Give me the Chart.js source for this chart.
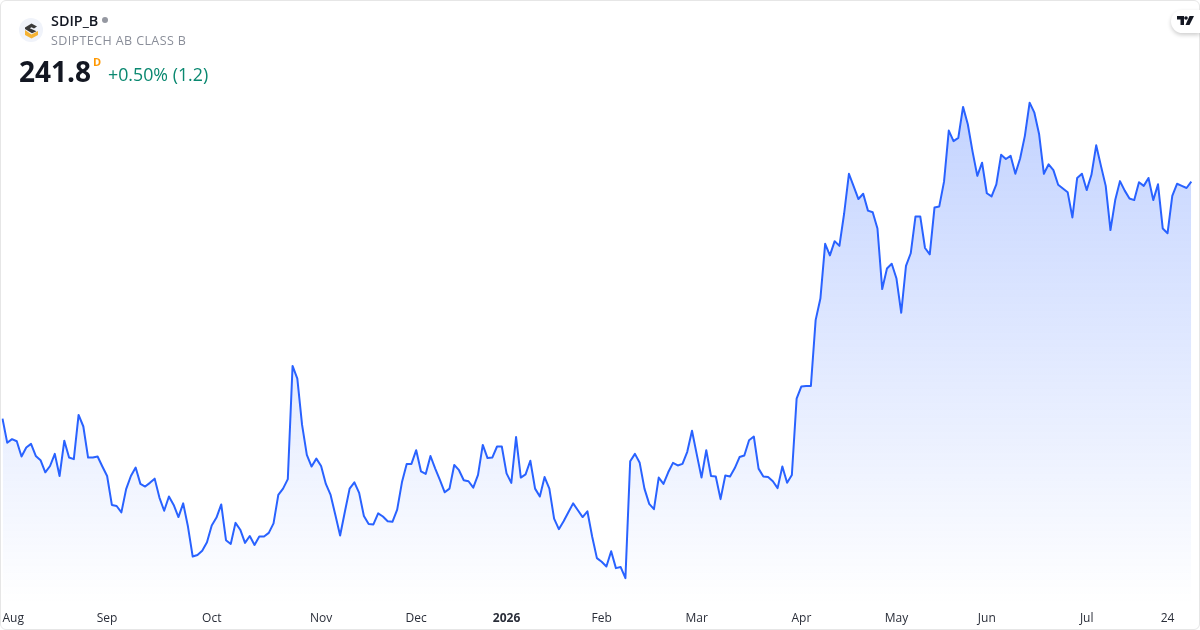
<!DOCTYPE html>
<html>
<head>
<meta charset="utf-8">
<title>SDIP_B</title>
<script src="https://cdn.jsdelivr.net/npm/chart.js@4/dist/chart.umd.min.js"></script>
<style>
  html, body { margin: 0; padding: 0; background: #fff; }
  body { width: 1200px; height: 630px; overflow: hidden; position: relative; font-family: "Open Sans", sans-serif; }
  #frame { position: absolute; left: 0; top: 0; width: 1198px; height: 628px; border: 1px solid #e6e6e6; border-radius: 6px; pointer-events: none; }
  canvas { position: absolute; left: 0; top: 0; }
  .txt { position: absolute; white-space: nowrap; }
  #logo { position: absolute; left: 19px; top: 18px; width: 24px; height: 24px; }
  #tv { position: absolute; left: 1171px; top: 10px; width: 29px; height: 23px; background: #fff; border-radius: 12px 0 0 12px; box-shadow: 0 2px 4px rgba(0,0,0,0.2); }
  #dot { position: absolute; left: 102px; top: 17px; width: 6px; height: 6px; border-radius: 50%; background: #9598a1; }
</style>
</head>
<body>
<canvas id="myChart" width="1200" height="630"></canvas>
<div id="frame"></div>

<svg id="logo" viewBox="0 0 24 24">
  <circle cx="12" cy="12" r="12" fill="#f0f3fa"/>
  <path d="M6 12 L12.5 16.5 L19 13 V17 L12.5 20.5 L6 17 Z" fill="#f5b335"/>
  <path d="M6 9.5 L12.5 5.5 L18 8.5 L15 10.5 L12.5 9.2 L10.8 10.2 L17.5 13.2 L13 15.2 L6 11 Z" fill="#3a3a3a"/>
</svg>
<div class="txt" style="left:51px;top:12px;font-size:14.4px;line-height:18px;font-weight:600;color:#131722">SDIP_B</div>
<div id="dot"></div>
<div class="txt" style="left:51px;top:32px;font-size:12.5px;line-height:17px;letter-spacing:0.4px;color:#8a8e99">SDIPTECH AB CLASS B</div>
<div class="txt" style="left:19px;top:52px;font-size:28px;line-height:38px;font-weight:700;color:#131722">241.8</div>
<div class="txt" style="left:93px;top:54px;font-size:11px;line-height:15px;font-weight:700;color:#ff9800">D</div>
<div class="txt" style="left:108px;top:62px;font-size:17.8px;line-height:24px;color:#0a8870">+0.50% (1.2)</div>

<div id="tv">
  <svg width="29" height="23" viewBox="0 0 29 23" style="position:absolute;left:0;top:0">
    <path d="M6 6 H13 V15 H9.5 V9.5 H6 Z" fill="#131722"/>
    <circle cx="15" cy="8" r="1.8" fill="#131722"/>
    <path d="M18.5 6 H23 L18.5 15 H14.5 Z" fill="#131722"/>
  </svg>
</div>

<script>
// closing prices, one per session
const values = [
  196.8, 192.2, 192.9, 192.5, 189.6, 191.3, 192.0, 189.7, 188.9, 186.6,
  187.8, 190.1, 185.9, 192.6, 189.4, 189.1, 197.5, 195.3, 189.4, 189.4,
  189.6, 187.7, 185.9, 180.4, 180.2, 179.0, 183.4, 185.9, 187.5, 184.4,
  183.9, 184.6, 185.4, 181.8, 179.3, 182.0, 180.4, 178.1, 180.7, 176.3,
  170.6, 170.9, 171.7, 173.3, 176.5, 178.0, 180.5, 173.7, 173.0, 177.0,
  175.7, 173.2, 174.5, 172.8, 174.4, 174.4, 175.1, 176.9, 182.3, 183.5,
  185.3, 206.8, 204.4, 195.6, 189.9, 187.7, 189.2, 187.8, 184.4, 182.3,
  178.5, 174.6, 179.1, 183.5, 184.7, 182.7, 178.3, 176.8, 176.7, 178.8,
  178.2, 177.3, 177.2, 179.5, 184.7, 188.2, 188.2, 190.8, 186.8, 186.3,
  189.7, 187.3, 185.1, 182.8, 183.5, 188.0, 187.0, 185.1, 184.9, 183.7,
  186.1, 191.8, 189.3, 189.4, 191.5, 191.5, 186.4, 184.6, 193.3, 185.6,
  186.2, 188.8, 183.5, 182.0, 185.7, 183.5, 177.8, 175.8, 177.3, 179.0,
  180.7, 179.4, 178.1, 179.2, 174.4, 170.3, 169.6, 168.7, 171.6, 168.4,
  168.6, 166.5, 188.7, 190.1, 188.4, 183.5, 180.6, 179.6, 185.6, 184.4,
  186.6, 188.4, 187.9, 188.2, 190.5, 194.5, 190.0, 185.6, 190.8, 185.9,
  185.8, 181.5, 186.0, 185.8, 187.4, 189.5, 189.8, 192.7, 193.4, 187.3,
  185.8, 185.7, 184.9, 183.6, 187.7, 184.6, 186.1, 200.6, 202.9, 203.0,
  203.0, 215.5, 219.6, 230.0, 227.8, 230.5, 229.6, 235.8, 243.3, 240.9,
  238.5, 239.5, 236.3, 236.0, 232.9, 221.4, 225.3, 226.2, 223.4, 216.9,
  225.8, 228.2, 235.2, 235.2, 229.2, 228.0, 236.9, 237.1, 241.8, 251.5,
  249.5, 250.1, 256.0, 252.7, 247.5, 242.9, 245.4, 239.6, 239.0, 241.3,
  246.9, 246.1, 246.7, 243.3, 246.2, 250.5, 256.8, 254.9, 250.8, 243.3,
  245.1, 244.0, 241.2, 240.5, 239.8, 235.0, 242.5, 243.3, 240.2, 243.1,
  248.7, 244.8, 241.0, 232.6, 238.3, 241.9, 240.1, 238.6, 238.3, 241.7,
  241.0, 242.5, 238.3, 241.3, 232.9, 232.0, 239.1, 241.4, 241.0, 240.6,
  241.8
];

// which session each time label sits under
const tickLabels = ['Aug', 'Sep', 'Oct', 'Nov', 'Dec', '2026', 'Feb', 'Mar', 'Apr', 'May', 'Jun', 'Jul', '24'];
const tickSessions = [0, 22, 44, 67, 87, 106, 126, 146, 168, 188, 207, 228, 245];

const sessions = values.map((v, i) => i);
const ctx = document.getElementById('myChart').getContext('2d');

// Area fill fades from the top of the line down to the axis
function areaFill(context) {
  const { chart } = context;
  const { chartArea, scales } = chart;
  if (!chartArea) return 'rgba(41, 98, 255, 0.28)';
  const top = scales.y.getPixelForValue(Math.max(...values));
  const g = chart.ctx.createLinearGradient(0, top, 0, chartArea.bottom);
  g.addColorStop(0, 'rgba(41, 98, 255, 0.28)');
  g.addColorStop(1, 'rgba(41, 98, 255, 0)');
  return g;
}

new Chart(ctx, {
  type: 'line',
  data: {
    labels: sessions,
    datasets: [
      {
        data: values,
        borderColor: '#2962ff',
        borderWidth: 2,
        borderJoinStyle: 'round',
        backgroundColor: areaFill,
        fill: 'start',
        tension: 0,
        pointRadius: 0,
      },
    ],
  },
  options: {
    responsive: false,
    animation: false,
    devicePixelRatio: 1,
    layout: { padding: { left: 2.5, right: 8.7, top: 0, bottom: 0 } },
    plugins: { legend: { display: false }, tooltip: { enabled: false } },
    scales: {
      x: {
        type: 'category',
        offset: false,
        grid: { display: false, drawTicks: false },
        border: { display: false },
        // keep the plot box fixed, labels should not push it around
        afterFit(scale) {
          scale.height = 25;
          scale.paddingLeft = 0;
          scale.paddingRight = 0;
        },
        ticks: {
          autoSkip: false,
          maxRotation: 0,
          minRotation: 0,
          align: 'inner',
          padding: 6,
          color: '#2a2e39',
          font: c => ({
            family: '"Open Sans", sans-serif',
            size: 12,
            weight: c.tick && c.tick.label === '2026' ? '700' : '400',
          }),
          callback(value) {
            const at = tickSessions.indexOf(value);
            return at === -1 ? '' : tickLabels[at];
          },
        },
      },
      y: {
        display: false,
        min: 161.4,
        max: 276.3,
      },
    },
  },
});
</script>
</body>
</html>
